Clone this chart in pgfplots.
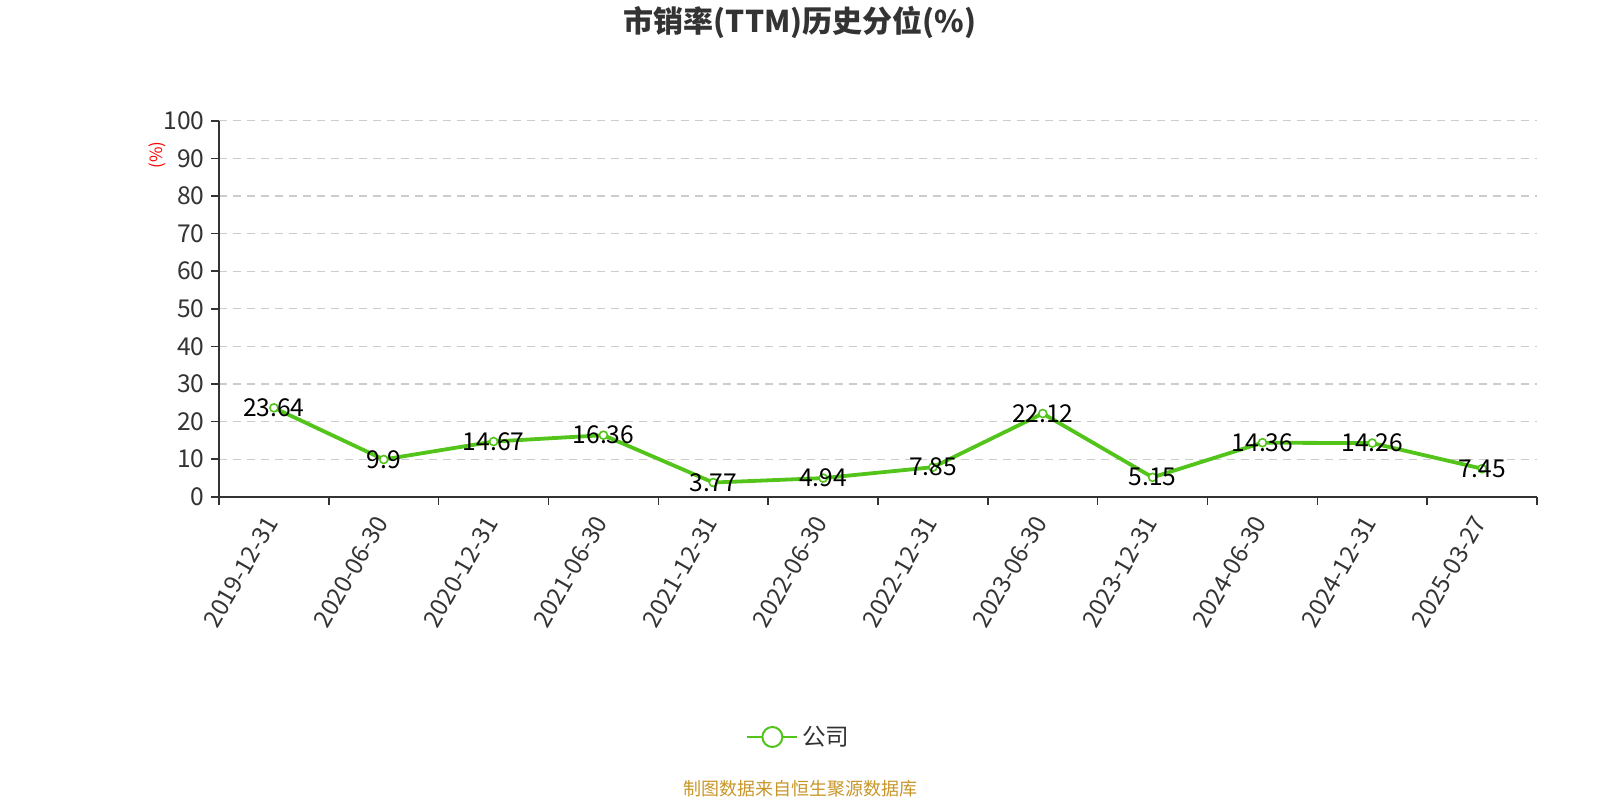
\documentclass[border=0pt]{standalone}
\usepackage{fontspec}
\setmainfont{Noto Sans CJK SC}
\usepackage{pgfplots}
\pgfplotsset{compat=1.18}
\definecolor{linegreen}{RGB}{82,196,26}
\definecolor{txtgray}{RGB}{51,51,51}
\definecolor{gridgray}{RGB}{204,204,204}
\definecolor{srcgold}{RGB}{200,150,40}
\begin{document}
\begin{tikzpicture}[x=1pt,y=1pt]
\path[use as bounding box] (0,0) rectangle (800,400);
\begin{axis}[
  at={(109.5pt,151.65pt)}, anchor=south west,
  scale only axis, width=659pt, height=188pt,
  xmin=-0.5, xmax=11.5, ymin=0, ymax=100,
  axis lines=left, axis line style={txtgray, line width=0.8pt, -},
  xtick={0,...,11},
  xticklabels={2019-12-31,2020-06-30,2020-12-31,2021-06-30,2021-12-31,2022-06-30,2022-12-31,2023-06-30,2023-12-31,2024-06-30,2024-12-31,2025-03-27},
  major x tick style={draw=none},
  minor xtick={-0.5,0.5,...,11.5},
  minor x tick style={txtgray, line width=0.8pt},
  ytick={0,10,...,100},
  y tick style={txtgray, line width=0.8pt},
  tick align=outside, major tick length=4pt, minor tick length=4pt,
  ymajorgrids, grid style={gridgray, dashed, dash pattern=on 4pt off 3pt, line width=0.6pt},
  xticklabel shift=5pt,
  xticklabel style={rotate=60, anchor=east, font=\fontsize{12}{14}\selectfont, text=txtgray, inner sep=2pt},
  yticklabel style={font=\fontsize{12.3}{14}\selectfont, text=txtgray, inner sep=3pt},
  /pgf/number format/assume math mode=true,
  legend style={at={(0.4408,-0.639)}, anchor=center, draw=none, fill=none, font=\fontsize{11.8}{14}\selectfont, text=txtgray},
  legend image code/.code={\draw[linegreen, line width=1pt] (0pt,0pt) -- (25pt,0pt); \draw[linegreen, fill=white, line width=1pt] (12.5pt,0pt) circle (5pt);},
  clip=false,
]
\addplot[linegreen, line width=1.9pt, mark=*, mark options={fill=white, draw=linegreen, line width=0.8pt}, mark size=2pt,
  nodes near coords, point meta=explicit symbolic,
  every node near coord/.style={anchor=center, text=black, font=\fontsize{12.3}{14}\selectfont}]
  table[meta=lab] {
x y lab
0 23.64 23.64
1 9.9 9.9
2 14.67 14.67
3 16.36 16.36
4 3.77 3.77
5 4.94 4.94
6 7.85 7.85
7 22.12 22.12
8 5.15 5.15
9 14.36 14.36
10 14.26 14.26
11 7.45 7.45
};
\addlegendentry{公司}
\end{axis}
\node[text=txtgray, font=\bfseries\fontsize{15}{18}\selectfont] at (400,388.7) {市销率(TTM)历史分位(\%)};
\node[text=red, rotate=90, font=\fontsize{8.4}{10}\selectfont] at (78.5,322.5) {(\%)};
\node[text=srcgold, font=\fontsize{9}{11}\selectfont] at (400,5.5) {制图数据来自恒生聚源数据库};
\end{tikzpicture}
\end{document}
